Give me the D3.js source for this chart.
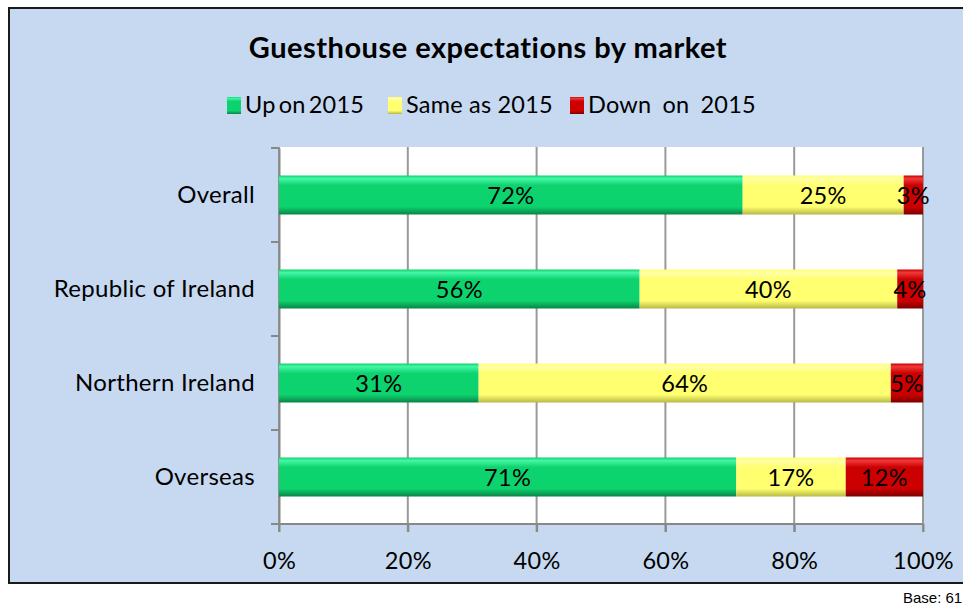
<!DOCTYPE html>
<html>
<head>
<meta charset="utf-8">
<script src="https://cdn.jsdelivr.net/npm/d3@7"></script>
<style>
  body { margin: 0; background: #fff; }
  svg text { font-family: Lato, "Open Sans", sans-serif; }
</style>
</head>
<body>
<svg id="canvas" width="963" height="606"></svg>
<script>
/** Chart data */
const markets = ['Overall', 'Republic of Ireland', 'Northern Ireland', 'Overseas'];
const upOn2015 = [72, 56, 31, 71];
const sameAs2015 = [25, 40, 64, 17];
const downOn2015 = [3, 4, 5, 12];
const seriesNames = ['Up on 2015', 'Same as 2015', 'Down on 2015'];
const xTicks = [0, 20, 40, 60, 80, 100];

let canvas = d3.select('#canvas');

/** Chart background and frame */
canvas.append('rect')
    .attr('x', 9).attr('y', 8)
    .attr('width', 960).attr('height', 575)
    .attr('fill', '#c6d9f0')
    .attr('stroke', '#1a1a1a')
    .attr('stroke-width', 2);

canvas.append('text')
    .attr('x', 488).attr('y', 58)
    .attr('text-anchor', 'middle')
    .attr('font-size', 29)
    .attr('font-weight', 'bold')
    .attr('letter-spacing', 0.5)
    .text('Guesthouse expectations by market');

canvas.append('text')
    .attr('x', 903).attr('y', 603)
    .attr('font-size', 15)
    .style('font-family', 'Liberation Sans, Arial, sans-serif')
    .text('Base: 61');

/** Gradients for the bevelled bars */
const palette = [
    { id: 'gUp', light: '#45f7a6', mid: '#0dd36e', dark: '#0a8447' },
    { id: 'gSame', light: '#ffffa8', mid: '#ffff70', dark: '#b8b845' },
    { id: 'gDown', light: '#f03a3a', mid: '#cc0000', dark: '#7a0000' }
];
const defs = canvas.append('defs');
palette.forEach((p) => {
    let g = defs.append('linearGradient')
        .attr('id', p.id)
        .attr('x1', 0).attr('y1', 0).attr('x2', 0).attr('y2', 1);
    g.append('stop').attr('offset', '0%').attr('stop-color', p.mid);
    g.append('stop').attr('offset', '8%').attr('stop-color', p.light);
    g.append('stop').attr('offset', '25%').attr('stop-color', p.mid);
    g.append('stop').attr('offset', '80%').attr('stop-color', p.mid);
    g.append('stop').attr('offset', '100%').attr('stop-color', p.dark);
});

/** Scales */
const plot = { left: 279, right: 923, top: 148, bottom: 524 };
const x = d3.scaleLinear().domain([0, 100]).range([plot.left, plot.right]);
const y = d3.scaleBand().domain(markets).range([plot.top, plot.bottom]).paddingInner(0.585).paddingOuter(0.2925);

canvas.append('rect')
    .attr('x', plot.left).attr('y', plot.top - 1)
    .attr('width', plot.right - plot.left).attr('height', plot.bottom - plot.top + 1)
    .attr('fill', '#fff');

/** Gridlines */
canvas.selectAll('.grid')
    .data(xTicks)
    .enter()
    .append('line')
    .attr('x1', (d) => x(d)).attr('x2', (d) => x(d))
    .attr('y1', plot.top - 1).attr('y2', plot.bottom + 8)
    .attr('stroke', '#999')
    .attr('stroke-width', 2);

/** Axes */
const xAxis = d3.axisBottom(x).tickValues(xTicks).tickFormat((d) => d + '%').tickSize(8).tickPadding(20);
const gx = canvas.append('g')
    .attr('transform', `translate(0,${plot.bottom})`)
    .call(xAxis);
gx.select('.domain').remove();
gx.selectAll('line').attr('stroke', '#888').attr('stroke-width', 2);
gx.selectAll('text').attr('font-size', 23.5).attr('letter-spacing', 0.3).attr('fill', '#000').style('font-family', 'Lato, "Open Sans", sans-serif');
canvas.append('line')
    .attr('x1', plot.left - 8).attr('x2', plot.right)
    .attr('y1', plot.bottom).attr('y2', plot.bottom)
    .attr('stroke', '#888').attr('stroke-width', 2);

const yAxis = d3.axisLeft(y).tickSize(0).tickPadding(24);
const gy = canvas.append('g')
    .attr('transform', `translate(${plot.left},0)`)
    .call(yAxis);
gy.select('.domain').attr('stroke', '#888').attr('stroke-width', 2);
gy.selectAll('text').attr('font-size', 24).attr('letter-spacing', 0.3).attr('fill', '#000').style('font-family', 'Lato, "Open Sans", sans-serif');

/** Category divider ticks on the left axis */
canvas.selectAll('.ytick')
    .data(d3.range(markets.length + 1))
    .enter()
    .append('line')
    .attr('x1', plot.left - 8).attr('x2', plot.left)
    .attr('y1', (i) => plot.top + i * (plot.bottom - plot.top) / markets.length)
    .attr('y2', (i) => plot.top + i * (plot.bottom - plot.top) / markets.length)
    .attr('stroke', '#888').attr('stroke-width', 2);

/** Stacked bars */
const rows = markets.map((m, i) => ({ market: m, up: upOn2015[i], same: sameAs2015[i], down: downOn2015[i] }));
const stack = d3.stack().keys(['up', 'same', 'down'])(rows);

const layer = canvas.selectAll('.layer')
    .data(stack)
    .enter()
    .append('g')
    .attr('fill', (d, i) => `url(#${palette[i].id})`);

layer.selectAll('rect')
    .data((d) => d)
    .enter()
    .append('rect')
    .attr('x', (d) => x(d[0]))
    .attr('y', (d) => y(d.data.market))
    .attr('width', (d) => x(d[1]) - x(d[0]))
    .attr('height', y.bandwidth());

layer.selectAll('text')
    .data((d) => d)
    .enter()
    .append('text')
    .attr('x', (d) => (x(d[0]) + x(d[1])) / 2)
    .attr('y', (d) => y(d.data.market) + y.bandwidth() / 2 + 9)
    .attr('text-anchor', 'middle')
    .attr('font-size', 23.5)
    .attr('letter-spacing', 0.3)
    .attr('fill', '#000')
    .text((d) => (d[1] - d[0]) + '%');

/** Legend */
const legendX = [227, 388, 570];
const legendWordSpacing = [-3, 0, 5];
const legend = canvas.selectAll('.legend')
    .data(seriesNames)
    .enter()
    .append('g')
    .attr('transform', (d, i) => `translate(${legendX[i]},97)`);
legend.append('rect')
    .attr('width', 14).attr('height', 17)
    .attr('fill', (d, i) => `url(#${palette[i].id})`);
legend.append('text')
    .attr('x', 18).attr('y', 16)
    .attr('font-size', 23.5)
    .attr('letter-spacing', 0.2)
    .attr('word-spacing', (d, i) => legendWordSpacing[i])
    .text((d) => d);
</script>
</body>
</html>
